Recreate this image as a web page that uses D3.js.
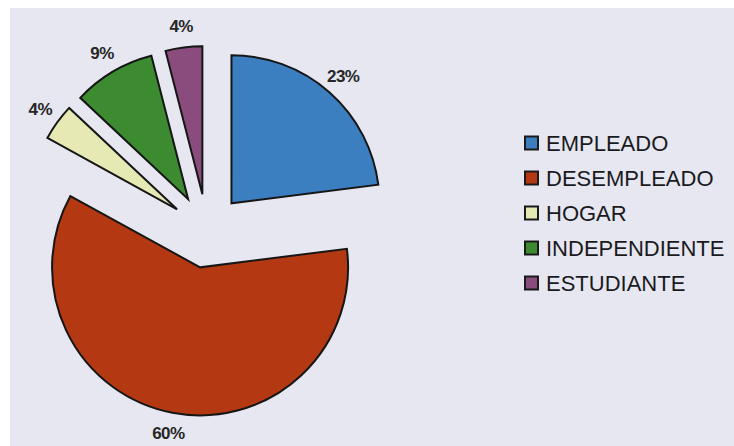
<!DOCTYPE html>
<html>
<head>
<meta charset="utf-8">
<script src="https://cdn.jsdelivr.net/npm/d3@7"></script>
<style>
  html, body { margin: 0; padding: 0; background: #ffffff; }
  svg { display: block; }
</style>
</head>
<body>
<svg id="chart" width="734" height="446"></svg>
<script>
const categories = ["EMPLEADO", "DESEMPLEADO", "HOGAR", "INDEPENDIENTE", "ESTUDIANTE"];
const values = [23, 60, 4, 9, 4];
const valueLabels = ["23%", "60%", "4%", "9%", "4%"];
const colors = ["#3b7fc1", "#b43912", "#e6e9b4", "#3c8b31", "#8a4c7d"];

const svg = d3.select("#chart");
const W = 734, H = 446;

// background plate
svg.append("rect").attr("x", 0).attr("y", 0).attr("width", W).attr("height", H).attr("fill", "#ffffff");
svg.append("rect").attr("x", 10).attr("y", 8).attr("width", W - 10).attr("height", H - 8).attr("fill", "#e6e7f0");

const cx = 207, cy = 231, R = 148, explode = 37, labelR = 206;

const pie = d3.pie().sort(null).value(d => d.v).startAngle(0).endAngle(2 * Math.PI);
const data = categories.map((c, i) => ({ name: c, v: values[i], label: valueLabels[i], color: colors[i] }));
const arcs = pie(data);
const arc = d3.arc().innerRadius(0).outerRadius(R);

const g = svg.append("g").attr("transform", `translate(${cx},${cy})`);

g.selectAll("path.slice")
  .data(arcs)
  .join("path")
  .attr("class", "slice")
  .attr("d", arc)
  .attr("transform", d => {
    const m = (d.startAngle + d.endAngle) / 2;
    return `translate(${explode * Math.sin(m)},${-explode * Math.cos(m)})`;
  })
  .attr("fill", d => d.data.color)
  .attr("stroke", "#161616")
  .attr("stroke-width", 2)
  .attr("stroke-linejoin", "miter");

g.selectAll("text.pct")
  .data(arcs)
  .join("text")
  .attr("class", "pct")
  .attr("x", d => labelR * Math.sin((d.startAngle + d.endAngle) / 2))
  .attr("y", d => -labelR * Math.cos((d.startAngle + d.endAngle) / 2))
  .attr("text-anchor", "middle")
  .attr("dominant-baseline", "central")
  .attr("font-family", "Liberation Sans, Arial, sans-serif")
  .attr("font-weight", "bold")
  .attr("font-size", 17)
  .attr("letter-spacing", -0.5)
  .attr("fill", "#262626")
  .text(d => d.data.label);

// legend
const lx = 525, ly0 = 143, step = 35, box = 13;
const lg = svg.append("g");
const items = lg.selectAll("g.item").data(data).join("g")
  .attr("class", "item")
  .attr("transform", (d, i) => `translate(${lx},${ly0 + i * step})`);
items.append("rect")
  .attr("x", 0).attr("y", -box / 2)
  .attr("width", box).attr("height", box)
  .attr("fill", d => d.color)
  .attr("stroke", "#1a1a1a").attr("stroke-width", 2);
items.append("text")
  .attr("x", 21).attr("y", 0)
  .attr("dominant-baseline", "central")
  .attr("font-family", "Liberation Sans, Arial, sans-serif")
  .attr("font-size", 22)
  .attr("fill", "#1a1a1e")
  .text(d => d.name);
</script>
</body>
</html>
